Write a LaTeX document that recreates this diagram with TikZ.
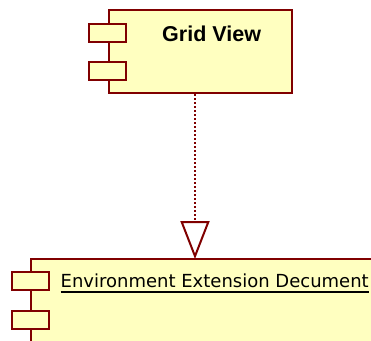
\documentclass[tikz,border=0pt]{standalone}
\usepackage{fontspec}
\setmainfont{Liberation Sans}
\newfontfamily\dejavu{DejaVu Sans}
\usetikzlibrary{arrows.meta}
\definecolor{compfill}{RGB}{255,255,192}
\definecolor{compline}{RGB}{128,0,0}
\tikzset{
  comp/.style={draw=compline, fill=compfill, line width=2pt, inner sep=0pt, rectangle},
  port/.style={comp, minimum width=37pt, minimum height=18pt},
  dep/.style={draw=compline, line width=1.5pt, dash pattern=on 1.6pt off 2.4pt,
    -{Triangle[open, length=38pt, width=29pt, line width=2pt]}},
}
\begin{document}
\begin{tikzpicture}[x=1pt, y=-1pt]
\useasboundingbox (0,0) rectangle (371,340);
\begin{scope}
\clip (0,0) rectangle (371,340);
% top component
\node[comp, minimum width=183pt, minimum height=83pt] (gv) at (200.5,51.5) {};
\node[port] (gvp1) at (107.5,33) {};
\node[port] (gvp2) at (107.5,71) {};
\node[anchor=base west, inner sep=0pt, font=\fontsize{21.5}{24}\selectfont\bfseries] (gvl) at (162,41.5) {Grid View};
% bottom component
\node[comp, minimum width=400pt, minimum height=100pt] (ed) at (231,309) {};
\node[port] (edp1) at (30.5,281) {};
\node[port] (edp2) at (30.5,320) {};
\node[anchor=base west, inner sep=0pt, font=\dejavu\fontsize{18}{22}\selectfont] (edl) at (60.5,287) {Environment Extension Decument};
\draw[line width=1.5pt] ([yshift=-5pt]edl.base west) -- ([yshift=-5pt]edl.base east);
% dependency
\coordinate (tipx) at (195,0);
\draw[dep] (gv.south -| tipx) -- ([yshift=-1pt]ed.north -| tipx);
\end{scope}
\end{tikzpicture}
\end{document}
